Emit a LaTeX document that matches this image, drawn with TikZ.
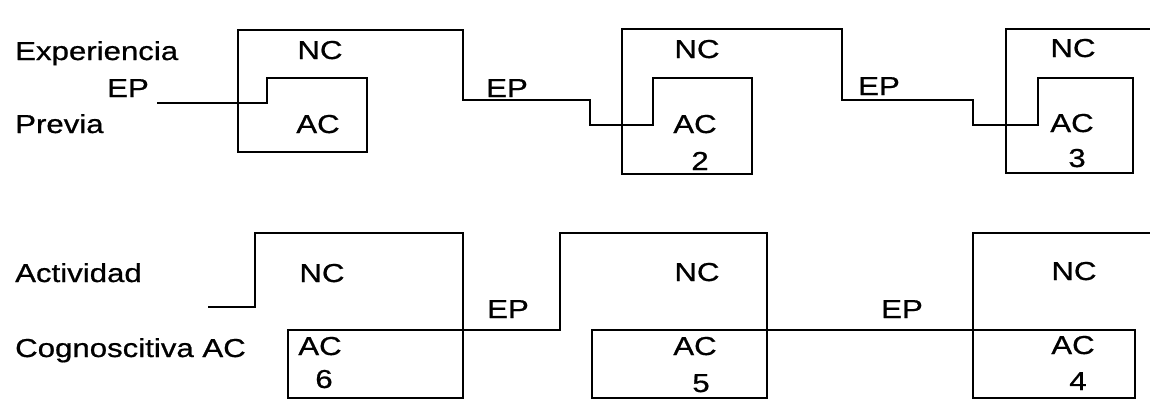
\documentclass[tikz,border=0pt]{standalone}
\usepackage{fontspec}
\setmainfont{Liberation Sans}[FakeBold=0.7]
\newcommand{\wtxt}[1]{\scalebox{1.2}[1]{#1}}
\tikzset{
	lbl/.style = {font=\fontsize{26}{30}\selectfont, inner sep=0pt, anchor=base},
	side/.style = {lbl, anchor=base west},
	trace/.style = {line width=1.8pt, line join=miter}
}
\begin{document}
\begin{tikzpicture}[x=1pt, y=-1pt]
		\useasboundingbox (0,0) rectangle (1150,400);
		
		%top row
		\node [side] (exp) at (15,60) {\wtxt{Experiencia}};
		\node [lbl] (epa) at (128,97) {\wtxt{EP}};
		\node [side] (prev) at (15,133) {\wtxt{Previa}};
		\draw [trace] (157,103) -- (267,103) -- (267,78) -- (367,78) -- (367,152) -- (238,152) -- (238,30)
			-- (463,30) -- (463,100) -- (590,100) -- (590,125) -- (653,125) -- (653,78) -- (752,78) -- (752,174) -- (622,174) -- (622,29)
			-- (842,29) -- (842,100) -- (973,100) -- (973,125) -- (1038,125) -- (1038,78) -- (1133,78) -- (1133,173) -- (1006,173) -- (1006,29)
			-- (1150,29);
		
		%first block
		\node [lbl] (nca) at (320,59) {\wtxt{NC}};
		\node [lbl] (aca) at (318,133) {\wtxt{AC}};
		
		%second block
		\node [lbl] (epb) at (507,97) {\wtxt{EP}};
		\node [lbl] (ncb) at (697,58) {\wtxt{NC}};
		\node [lbl] (acb) at (695,133) {\wtxt{AC}};
		\node [lbl] (nb) at (700,170) {\wtxt{2}};
		
		%third block
		\node [lbl] (epc) at (879,95) {\wtxt{EP}};
		\node [lbl] (ncc) at (1073,57) {\wtxt{NC}};
		\node [lbl] (acc) at (1072,132) {\wtxt{AC}};
		\node [lbl] (nc3) at (1077,167) {\wtxt{3}};
		
		%bottom row
		\node [side] (act) at (15,282) {\wtxt{Actividad}};
		\node [side] (cog) at (15,357) {\wtxt{Cognoscitiva AC}};
		\draw [trace] (208,307) -- (255,307) -- (255,233) -- (463,233) -- (463,398) -- (288,398) -- (288,330)
			-- (560,330) -- (560,233) -- (767,233) -- (767,398) -- (592,398) -- (592,330)
			-- (1135,330) -- (1135,398) -- (973,398) -- (973,233) -- (1150,233);
		
		%sixth block
		\node [lbl] (ncf) at (322,282) {\wtxt{NC}};
		\node [lbl] (acf) at (320,355) {\wtxt{AC}};
		\node [lbl] (nf) at (324,388) {\wtxt{6}};
		
		%fifth block
		\node [lbl] (epe) at (508,318) {\wtxt{EP}};
		\node [lbl] (nce) at (697,281) {\wtxt{NC}};
		\node [lbl] (ace) at (695,355) {\wtxt{AC}};
		\node [lbl] (ne) at (701,392) {\wtxt{5}};
		
		%fourth block
		\node [lbl] (epd) at (902,318) {\wtxt{EP}};
		\node [lbl] (ncd) at (1074,280) {\wtxt{NC}};
		\node [lbl] (acd) at (1073,354) {\wtxt{AC}};
		\node [lbl] (nd) at (1078,390) {\wtxt{4}};
	\end{tikzpicture}
\end{document}
